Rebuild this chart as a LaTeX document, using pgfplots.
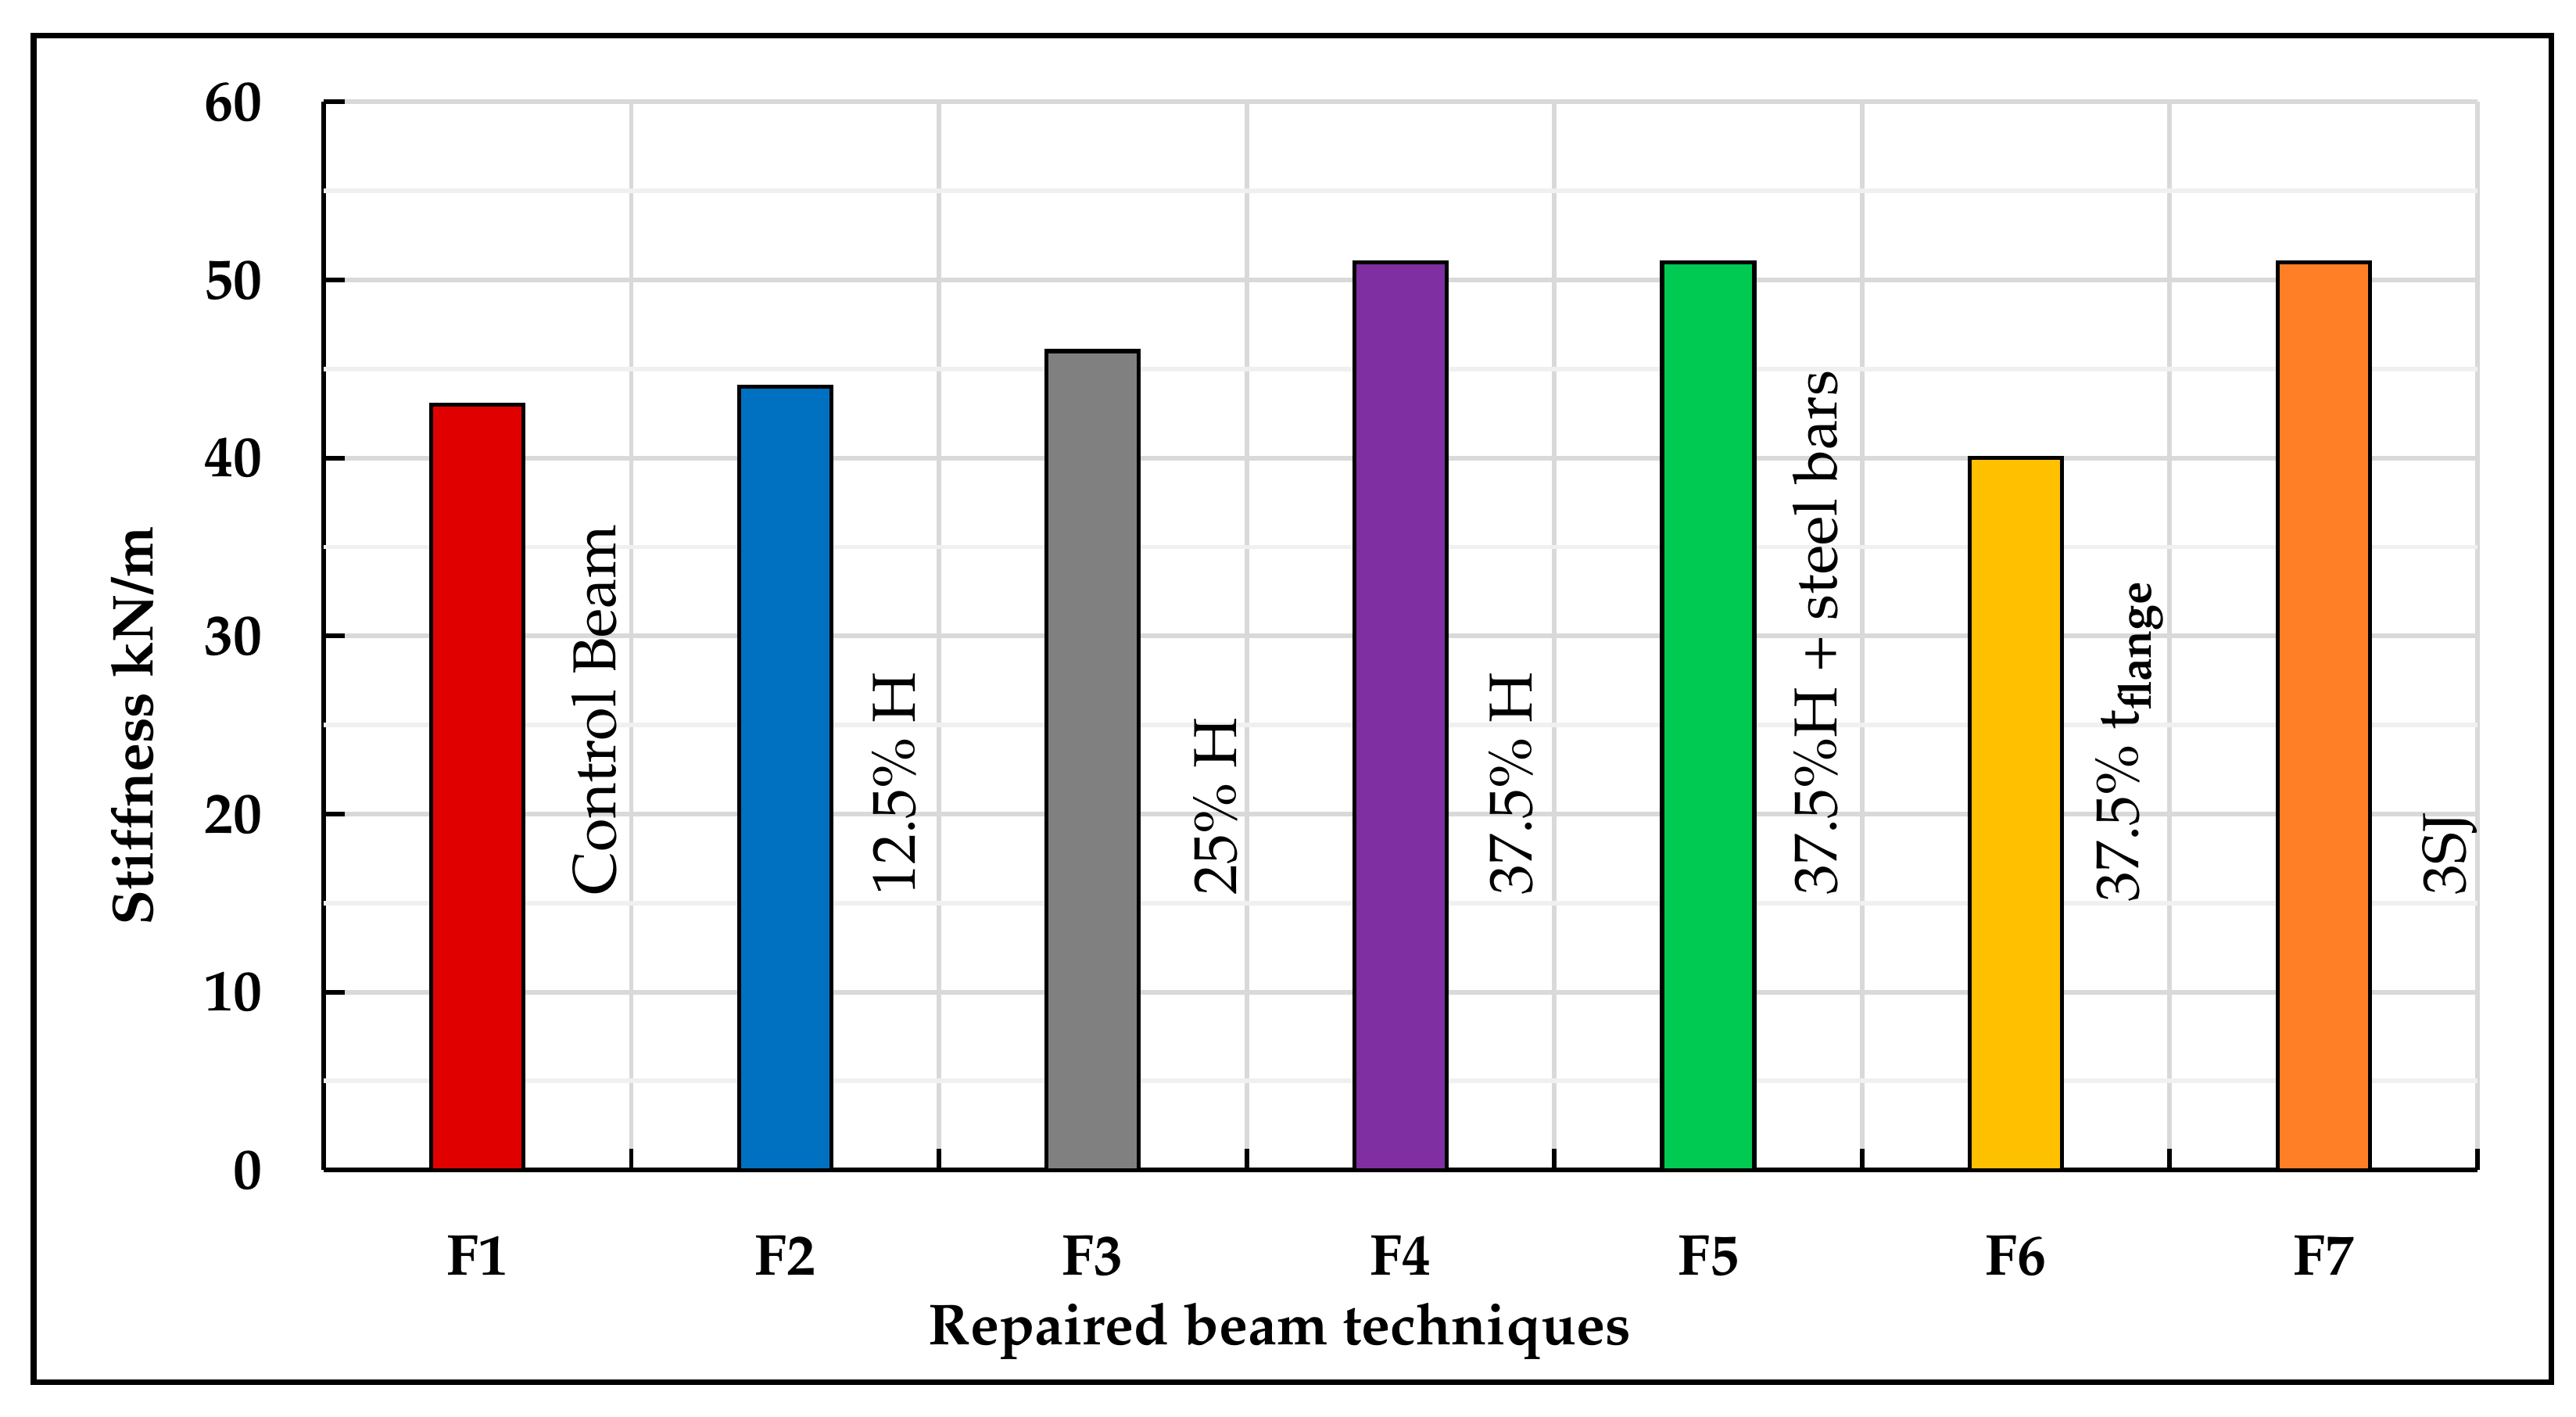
\documentclass[border=0pt]{standalone}
\usepackage[T1]{fontenc}
\usepackage{mathpazo}
\usepackage{pgfplots}
\pgfplotsset{compat=1.18}

\definecolor{gridmajor}{HTML}{D9D9D9}
\definecolor{gridminor}{HTML}{F0F0F0}
\definecolor{cF1}{HTML}{E00000}
\definecolor{cF2}{HTML}{0070C0}
\definecolor{cF3}{HTML}{808080}
\definecolor{cF4}{HTML}{7F2FA1}
\definecolor{cF5}{HTML}{00CA52}
\definecolor{cF6}{HTML}{FFC000}
\definecolor{cF7}{HTML}{FF7F27}

\begin{document}
\begin{tikzpicture}
\begin{axis}[
    scale only axis,
    width=13.11cm,
    height=6.5cm,
    xmin=-0.5, xmax=6.5,
    ymin=0, ymax=60,
    axis x line*=bottom,
    axis y line*=left,
    axis line style={line width=0.8pt, -},
    tick align=inside,
    major tick length=0.13cm,
    tick style={line width=0.8pt, black},
    % category borders: ticks + vertical grid
    xtick={-0.5,0.5,...,6.5},
    xticklabels={},
    xmajorgrids=true,
    % category names
    extra x ticks={0,1,2,3,4,5,6},
    extra x tick labels={F1,F2,F3,F4,F5,F6,F7},
    extra x tick style={grid=none, tickwidth=0pt},
    ytick={0,10,...,60},
    ymajorgrids=true,
    extra y ticks={5,15,...,55},
    extra y tick labels={},
    extra y tick style={grid=major, tickwidth=0pt,
        major grid style={draw=gridminor, line width=0.8pt}},
    major grid style={draw=gridmajor, line width=0.8pt},
    /pgf/number format/assume math mode=true,
    tick label style={font=\bfseries},
    y tick label style={xshift=-0.25cm},
    x tick label style={yshift=-0.28cm},
    xlabel={\bfseries Repaired beam techniques},
    ylabel={\bfseries Stiffness kN/m},
    xlabel style={at={(axis description cs:0.444,-0.151)}, anchor=center},
    ylabel style={at={(axis description cs:-0.089,0.416)}, anchor=center},
]

\addplot[ybar, bar width=0.3, fill=cF1, draw=black, line width=0.7pt] coordinates {(0,43)};
\addplot[ybar, bar width=0.3, fill=cF2, draw=black, line width=0.7pt] coordinates {(1,44)};
\addplot[ybar, bar width=0.3, fill=cF3, draw=black, line width=0.7pt] coordinates {(2,46)};
\addplot[ybar, bar width=0.3, fill=cF4, draw=black, line width=0.7pt] coordinates {(3,51)};
\addplot[ybar, bar width=0.3, fill=cF5, draw=black, line width=0.7pt] coordinates {(4,51)};
\addplot[ybar, bar width=0.3, fill=cF6, draw=black, line width=0.7pt] coordinates {(5,40)};
\addplot[ybar, bar width=0.3, fill=cF7, draw=black, line width=0.7pt] coordinates {(6,51)};

% rotated names beside the bars
\begin{scope}[every node/.style={rotate=90, anchor=west, inner sep=0pt,
    font=\fontsize{10.5}{12}\selectfont}]
\node at (axis cs:0.38,15.4) {Control Beam};
\node at (axis cs:1.355,15.4) {12.5\% H};
\node at (axis cs:2.40,15.4) {25\% H};
\node at (axis cs:3.36,15.4) {37.5\% H};
\node at (axis cs:4.35,15.4) {37.5\%H + steel bars};
\node at (axis cs:5.37,15.0) {37.5\% t\textsubscript{\bfseries flange}};
\node at (axis cs:6.41,15.4) {3SJ};
\end{scope}
\end{axis}

\draw[line width=1pt] (-1.765,-1.29) rectangle (13.56,6.905);
\pgfresetboundingbox
\path[use as bounding box] (-1.97,-1.50) rectangle (13.71,7.12);
\end{tikzpicture}
\end{document}
